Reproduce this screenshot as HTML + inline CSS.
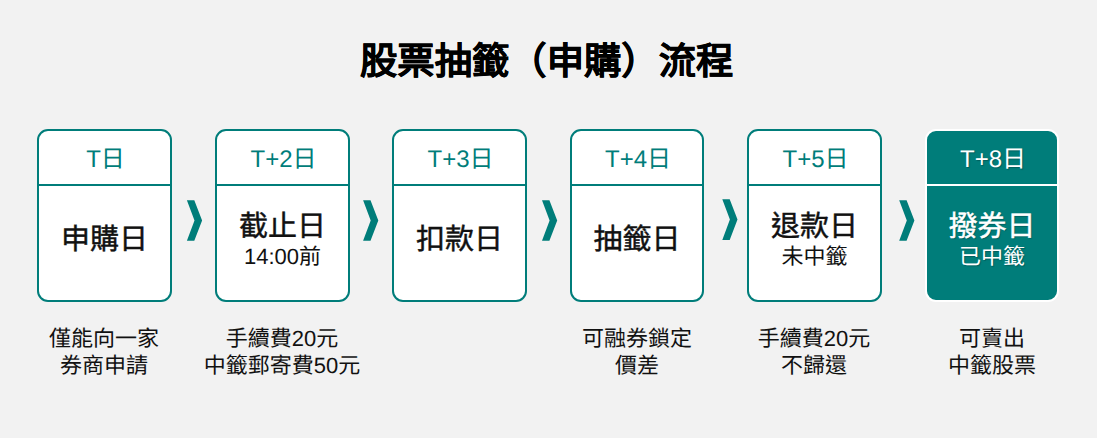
<!DOCTYPE html>
<html lang="zh-TW">
<head>
<meta charset="utf-8">
<style>
html,body{margin:0;padding:0;}
body{width:1097px;height:438px;background:#f2f2f2;position:relative;overflow:hidden;text-rendering:geometricPrecision;font-family:"Liberation Sans",sans-serif;color:#111;}
.title{position:absolute;left:360px;top:36px;white-space:nowrap;font-size:37.33px;line-height:50px;font-weight:700;color:#000;-webkit-text-stroke:0.3px #000;}
.box{position:absolute;top:129px;height:169px;border:2px solid #007d7a;border-radius:11px;background:#fff;overflow:hidden;}
.box .hd{height:53px;border-bottom:2px solid #007d7a;text-align:center;font-size:24px;line-height:57px;padding-left:2px;color:#007d7a;}
.box .bd{position:absolute;left:0;right:0;top:55px;bottom:0;}
.box .bd div{position:absolute;left:0;right:0;text-align:center;white-space:nowrap;}
.box .m{top:37px;}
.box .bd.two .m{top:24px;}
.box .bd.two .s{top:59px;}
.box .m{font-size:29px;line-height:34px;font-weight:400;color:#111;-webkit-text-stroke:0.45px #111;}
.box .s{font-size:22px;line-height:24px;color:#111;}
.box.f{background:#007d7a;border-color:#fff;}
.box.f .hd{color:#fff;border-bottom-color:#fff;text-shadow:1px 1px 1px rgba(0,40,40,.35);}
.box.f .m,.box.f .s{color:#fff;-webkit-text-stroke-color:#fff;text-shadow:1px 1px 1px rgba(0,40,40,.35);}
.note{position:absolute;top:325px;width:180px;text-align:center;font-size:22px;line-height:27px;color:#111;}
</style>
</head>
<body>
<div class="title">股票抽籤（申購）流程</div>

<div class="box" style="left:37px;width:131px"><div class="hd">T日</div><div class="bd"><div class="m">申購日</div></div></div>
<div class="box" style="left:215px;width:131px"><div class="hd">T+2日</div><div class="bd two"><div class="m">截止日</div><div class="s">14:00前</div></div></div>
<div class="box" style="left:392px;width:131px"><div class="hd">T+3日</div><div class="bd"><div class="m">扣款日</div></div></div>
<div class="box" style="left:570px;width:130px"><div class="hd">T+4日</div><div class="bd"><div class="m">抽籤日</div></div></div>
<div class="box" style="left:747px;width:131px"><div class="hd">T+5日</div><div class="bd two"><div class="m">退款日</div><div class="s">未中籤</div></div></div>
<div class="box f" style="left:925px;width:130px"><div class="hd">T+8日</div><div class="bd two"><div class="m">撥券日</div><div class="s">已中籤</div></div></div>


<svg style="position:absolute;left:0;top:0" width="1097" height="438" viewBox="0 0 1097 438"><g fill="#007d7a"><polygon points="186.9,200.2 194.3,200.2 202.1,220.5 194.3,240.8 186.9,240.8 194.5,220.5"/><polygon points="363.1,200.2 370.5,200.2 378.3,220.5 370.5,240.8 363.1,240.8 370.7,220.5"/><polygon points="542.0,200.2 549.4,200.2 557.2,220.5 549.4,240.8 542.0,240.8 549.6,220.5"/><polygon points="722.3,199.3 729.7,199.3 737.5,219.6 729.7,239.9 722.3,239.9 729.9,219.6"/><polygon points="899.2,200.2 906.6,200.2 914.4,220.5 906.6,240.8 899.2,240.8 906.8,220.5"/></g></svg>
<div class="note" style="left:14px">僅能向一家<br>券商申請</div>
<div class="note" style="left:192px">手續費20元<br>中籤郵寄費50元</div>
<div class="note" style="left:547px">可融券鎖定<br>價差</div>
<div class="note" style="left:724px">手續費20元<br>不歸還</div>
<div class="note" style="left:902px">可賣出<br>中籤股票</div>
</body>
</html>
